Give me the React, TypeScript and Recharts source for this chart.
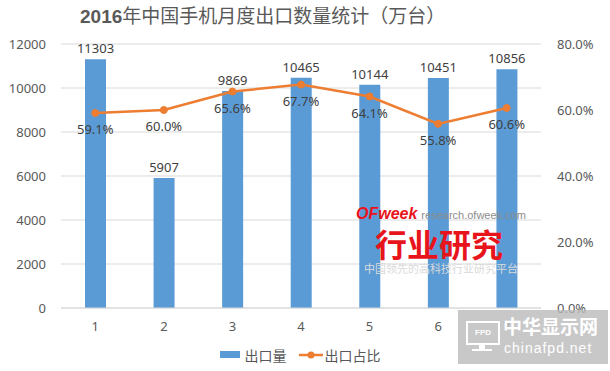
import React from 'react';
import { ComposedChart, Bar, Line, XAxis, YAxis, CartesianGrid, Legend, LabelList } from 'recharts';

document.body.style.margin = '0';

const months = ['1', '2', '3', '4', '5', '6', '7'];
const exportVolume = [11303, 5907, 9869, 10465, 10144, 10451, 10856];
const exportShare = [59.1, 60.0, 65.6, 67.7, 64.1, 55.8, 60.6];
const volumeTicks = [0, 2000, 4000, 6000, 8000, 10000, 12000];
const shareTicks = [0, 20, 40, 60, 80];

const data = months.map((m, i) => ({ month: m, volume: exportVolume[i], share: exportShare[i] }));

const font = '"Noto Sans", "Noto Sans CJK SC", sans-serif';
const blue = '#5B9BD5';
const orange = '#ED7D31';
const tickColor = '#595959';
const labelColor = '#404040';

const pct = (v: any) => `${Number(v).toFixed(1)}%`;

const LegendContent = () => (
  <div style={{ display: 'flex', justifyContent: 'center', alignItems: 'center', fontSize: 14, color: tickColor, fontFamily: font, height: 33, paddingRight: 10 }}>
    <span style={{ display: 'inline-block', width: 20, height: 7, background: blue, marginRight: 5 }} />
    <span style={{ marginRight: 12 }}>出口量</span>
    <svg width={24} height={10} style={{ marginRight: 2 }}>
      <line x1={0} y1={5} x2={24} y2={5} stroke={orange} strokeWidth={2.5} />
      <circle cx={12} cy={5} r={3.5} fill={orange} />
    </svg>
    <span>出口占比</span>
  </div>
);

const App: React.FC = () => {
  return (
    <div style={{ position: 'absolute', left: 0, top: 0, width: 610, height: 371, background: '#fff', fontFamily: font }}>
      <div style={{ position: 'absolute', left: 80, top: 2, fontSize: 19, color: tickColor, whiteSpace: 'nowrap', lineHeight: '26px' }}>
        <span style={{ fontFamily: '"Liberation Sans Narrow", "Liberation Sans", sans-serif', fontWeight: 'bold' }}>2016</span>
        <span style={{ fontFamily: '"Noto Sans CJK SC", sans-serif' }}>年中国手机月度出口数量统计（万台）</span>
      </div>
      <ComposedChart width={610} height={371} data={data} margin={{ top: 44, right: 0, bottom: 0, left: 0 }}>
        <CartesianGrid vertical={false} stroke="#D9D9D9" yAxisId="left" />
        <XAxis
          dataKey="month"
          height={30}
          tickLine={false}
          axisLine={{ stroke: '#D9D9D9' }}
          tickMargin={8}
          tick={{ fill: tickColor, fontSize: 13, fontFamily: font }}
        />
        <YAxis
          yAxisId="left"
          width={61}
          domain={[0, 12000]}
          ticks={volumeTicks}
          axisLine={false}
          tickLine={false}
          tickMargin={9}
          tick={{ fill: tickColor, fontSize: 13, fontFamily: font }}
        />
        <YAxis
          yAxisId="right"
          orientation="right"
          width={69}
          domain={[0, 80]}
          ticks={shareTicks}
          tickFormatter={pct}
          axisLine={false}
          tickLine={false}
          tickMargin={10}
          tick={{ fill: tickColor, fontSize: 13, fontFamily: font }}
        />
        <Legend verticalAlign="bottom" height={33} content={<LegendContent />} />
        <Bar yAxisId="left" dataKey="volume" name="出口量" fill={blue} barSize={21} isAnimationActive={false}>
          <LabelList dataKey="volume" position="top" offset={6} fill={labelColor} fontSize={13} fontFamily={font} />
        </Bar>
        <Line
          yAxisId="right"
          dataKey="share"
          name="出口占比"
          stroke={orange}
          strokeWidth={2.5}
          dot={{ r: 3.5, fill: orange, stroke: orange, strokeWidth: 1 }}
          isAnimationActive={false}
        >
          <LabelList dataKey="share" position="bottom" offset={12} formatter={pct} fill={labelColor} fontSize={13} fontFamily={font} />
        </Line>
      </ComposedChart>
      <div style={{ position: 'absolute', left: 356, top: 202, pointerEvents: 'none', whiteSpace: 'nowrap' }}>
        <span style={{ color: '#E8141B', fontStyle: 'italic', fontWeight: 'bold', fontSize: 16, fontFamily: '"Liberation Sans", sans-serif' }}>OFweek</span>
        <span style={{ color: '#8C8C8C', fontSize: 11, fontFamily: '"Liberation Sans", sans-serif', marginLeft: 4 }}>research.ofweek.com</span>
      </div>
      <div style={{ position: 'absolute', left: 375, top: 226, color: '#E8141B', fontSize: 32, fontWeight: 'bold', fontFamily: '"Noto Sans CJK SC", sans-serif', lineHeight: '34px', pointerEvents: 'none', whiteSpace: 'nowrap' }}>
        行业研究
      </div>
      <div style={{ position: 'absolute', left: 364, top: 262, color: '#DADADA', fontSize: 11, lineHeight: '13px', fontFamily: '"Noto Sans CJK SC", sans-serif', pointerEvents: 'none', whiteSpace: 'nowrap' }}>
        中国领先的高科技行业研究平台
      </div>
      <div style={{ position: 'absolute', left: 458, top: 310, width: 150, height: 54, background: 'rgba(185,185,185,0.78)', pointerEvents: 'none' }}>
        <div style={{ position: 'absolute', left: 8, top: 11, width: 30, height: 20, border: '2px solid #fff', color: '#fff', fontSize: 8, fontWeight: 'bold', textAlign: 'center', lineHeight: '20px', fontFamily: '"Liberation Sans", sans-serif' }}>FPD</div>
        <div style={{ position: 'absolute', left: 21, top: 34, width: 6, height: 5, background: '#fff' }} />
        <div style={{ position: 'absolute', left: 14, top: 39, width: 20, height: 2, background: '#fff' }} />
        <div style={{ position: 'absolute', left: 45, top: 3, color: '#fff', fontSize: 19, fontWeight: 'bold', fontFamily: '"Noto Sans CJK SC", sans-serif', lineHeight: '26px', whiteSpace: 'nowrap' }}>中华显示网</div>
        <div style={{ position: 'absolute', left: 46, top: 30, color: '#fff', fontSize: 14, fontFamily: '"Liberation Sans", sans-serif', letterSpacing: 1, whiteSpace: 'nowrap' }}>chinafpd.net</div>
      </div>
    </div>
  );
};

export default App;
